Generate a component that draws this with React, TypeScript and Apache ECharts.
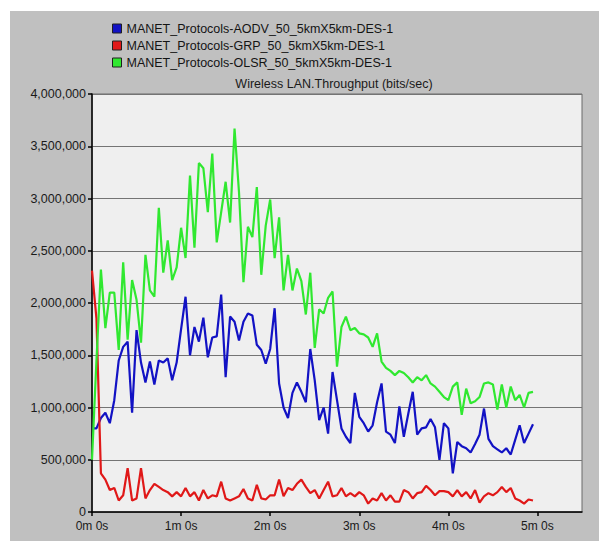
import React, { useEffect, useRef } from "react";
import * as echarts from "echarts";

// Wireless LAN throughput (bits/sec) sampled every 3 s, stored in kbit/s.
const SAMPLE_STEP_S = 3;

const SERIES_NAMES = [
  "MANET_Protocols-AODV_50_5kmX5km-DES-1",
  "MANET_Protocols-GRP_50_5kmX5km-DES-1",
  "MANET_Protocols-OLSR_50_5kmX5km-DES-1",
];

const AODV_KBPS = [
  800, 800, 900, 950, 850, 1070, 1450, 1580, 1630, 950,
  1740, 1430, 1240, 1440, 1220, 1450, 1430, 1470, 1260, 1430,
  1750, 2060, 1500, 1770, 1630, 1860, 1480, 1670, 1680, 2080,
  1290, 1870, 1820, 1640, 1820, 1900, 1880, 1600, 1550, 1420,
  1560, 1950, 1230, 1000, 900, 1140, 1240, 1150, 1050, 1560,
  1260, 880, 1000, 750, 1340, 1070, 800, 720, 660, 1140,
  910, 850, 770, 830, 1050, 1230, 770, 740, 660, 1010,
  720, 940, 1150, 740, 800, 810, 890, 810, 500, 850,
  800, 370, 670, 630, 610, 570, 650, 740, 990, 700,
  630, 600, 570, 610, 550, 690, 830, 660, 750, 840,
];

const GRP_KBPS = [
  2310, 1850, 370, 310, 210, 230, 110, 160, 420, 110,
  130, 420, 130, 210, 270, 240, 210, 190, 150, 190,
  150, 230, 150, 190, 110, 210, 130, 160, 150, 290,
  130, 110, 130, 150, 220, 130, 110, 260, 130, 120,
  160, 160, 310, 150, 230, 210, 270, 310, 240, 180,
  210, 130, 210, 290, 150, 160, 230, 150, 180, 150,
  190, 160, 80, 130, 110, 180, 110, 160, 100, 100,
  210, 190, 130, 180, 190, 250, 210, 160, 200, 200,
  190, 150, 210, 150, 190, 130, 210, 90, 150, 180,
  160, 190, 240, 190, 230, 130, 110, 80, 120, 110,
];

const OLSR_KBPS = [
  500, 1450, 2320, 1760, 2100, 2100, 1550, 2390, 1650, 2220,
  2030, 1620, 2460, 2120, 2060, 2910, 2290, 2600, 2220, 2340,
  2720, 2430, 3220, 2530, 3340, 3290, 2870, 3430, 2580, 2870,
  3160, 2770, 3670, 3060, 2200, 2730, 2630, 3110, 2270, 2740,
  2990, 2430, 2820, 2120, 2460, 2120, 2330, 2210, 1890, 2290,
  1570, 1940, 1900, 2050, 2110, 1390, 1770, 1870, 1740, 1760,
  1710, 1700, 1670, 1580, 1710, 1440, 1380, 1350, 1310, 1350,
  1330, 1290, 1240, 1290, 1260, 1310, 1230, 1200, 1150, 1100,
  1070, 1200, 1240, 930, 1180, 1040, 1060, 1100, 1230, 1240,
  1220, 980, 1220, 1000, 1200, 1070, 1120, 1000, 1140, 1150,
];

const SERIES_COLORS = ["#1212c4", "#e01818", "#30e830"];
const TITLE = "Wireless LAN.Throughput (bits/sec)";
const FONT = 'Arial, "Liberation Sans", Helvetica, sans-serif';

const toPoints = (kbps: number[]) =>
  kbps.map((v, i) => [i * SAMPLE_STEP_S, v * 1000]);

export default function App() {
  const ref = useRef<HTMLDivElement>(null);

  useEffect(() => {
    if (!ref.current) return;
    const chart = echarts.init(ref.current, undefined, { renderer: "svg" });
    const values = [AODV_KBPS, GRP_KBPS, OLSR_KBPS];

    chart.setOption({
      animation: false,
      backgroundColor: "#c0c0c0",
      textStyle: { fontFamily: FONT },
      graphic: [
        { type: "rect", shape: { x: 0, y: 0, width: 599, height: 11 }, style: { fill: "#ffffff" }, silent: true },
        { type: "rect", shape: { x: 0, y: 0, width: 10, height: 541 }, style: { fill: "#ffffff" }, silent: true },
        {
          type: "text",
          x: 334,
          y: 84,
          style: {
            text: TITLE,
            fill: "#1a1a1a",
            fontSize: 12.5,
            fontFamily: FONT,
            align: "center",
            verticalAlign: "middle",
            textAlign: "center",
            textVerticalAlign: "middle",
          },
        },
      ],
      legend: {
        data: SERIES_NAMES,
        orient: "vertical",
        left: 107,
        top: 17,
        itemWidth: 9,
        itemHeight: 9,
        itemGap: 4,
        icon: "rect",
        itemStyle: { borderColor: "#202020", borderWidth: 1 },
        textStyle: { fontSize: 12.5, color: "#141414", fontFamily: FONT, lineHeight: 12 },
        selectedMode: false,
      },
      grid: {
        left: 92,
        top: 94,
        right: 17,
        bottom: 29,
        show: true,
        backgroundColor: "#efefef",
        borderColor: "#6a6a6a",
        borderWidth: 1,
      },
      xAxis: {
        type: "value",
        min: 0,
        max: 330,
        interval: 60,
        axisLine: { show: true, lineStyle: { color: "#000000", width: 1.5 } },
        axisTick: { show: true, length: 4, lineStyle: { color: "#000000", width: 1.5 } },
        axisLabel: {
          color: "#1a1a1a",
          fontSize: 12,
          fontFamily: FONT,
          margin: 8,
          showMaxLabel: false,
          formatter: (v: number) => (v % 60 === 0 ? `${v / 60}m 0s` : ""),
        },
        splitLine: { show: false },
      },
      yAxis: {
        type: "value",
        min: 0,
        max: 4000000,
        interval: 500000,
        axisLine: { show: true, lineStyle: { color: "#000000", width: 1.5 } },
        axisTick: { show: true, length: 4, lineStyle: { color: "#000000", width: 1.5 } },
        axisLabel: {
          color: "#1a1a1a",
          fontSize: 12.5,
          fontFamily: FONT,
          margin: 6,
          lineHeight: 12,
          formatter: (v: number) => v.toLocaleString("en-US"),
        },
        splitLine: { show: true, lineStyle: { color: "#747474", width: 1 } },
      },
      series: SERIES_NAMES.map((name, i) => ({
        name,
        type: "line",
        data: toPoints(values[i]),
        showSymbol: false,
        symbol: "none",
        color: SERIES_COLORS[i],
        lineStyle: { width: 2.2, color: SERIES_COLORS[i] },
        emphasis: { disabled: true },
      })),
    });

    return () => chart.dispose();
  }, []);

  return (
    <div
      ref={ref}
      style={{ position: "fixed", left: 0, top: 0, width: 599, height: 541 }}
    />
  );
}
